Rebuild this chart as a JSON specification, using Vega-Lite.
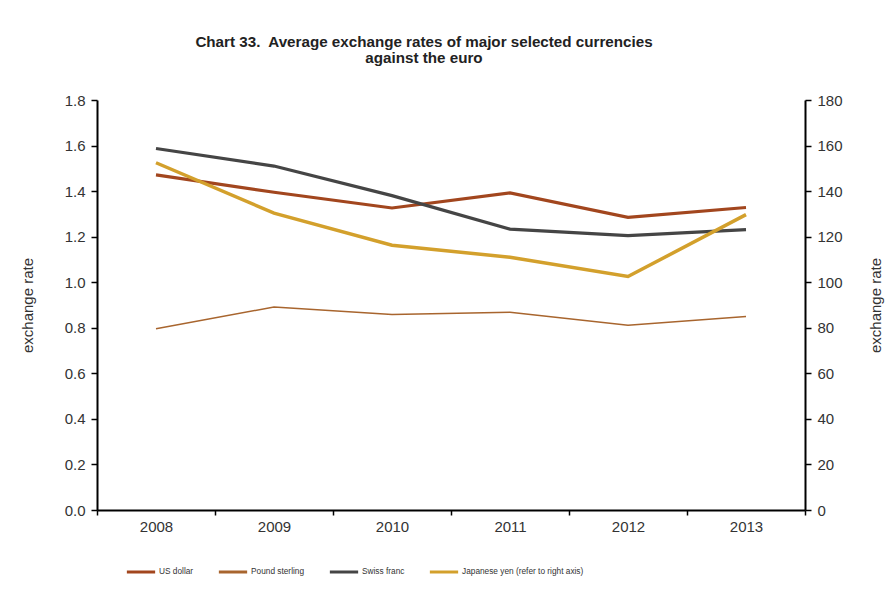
{
  "$schema": "https://vega.github.io/schema/vega-lite/v6.json",
  "width": 708,
  "height": 410,
  "autosize": {"type": "none"},
  "padding": {"left": 97, "top": 100, "right": 86, "bottom": 86},
  "background": "white",
  "config": {
    "view": {"stroke": null},
    "font": "Liberation Sans",
    "axis": {"domainColor": "black", "domainWidth": 2, "tickColor": "black", "tickWidth": 1.5, "tickSize": 6, "labelFont": "Liberation Sans", "labelFontSize": 15, "labelColor": "#333", "titleFont": "Liberation Sans", "titleFontSize": 15, "titleFontWeight": "normal", "titleColor": "#333", "grid": false}
  },
  "title": {
    "text": ["Chart 33.\u00a0 Average exchange rates of major selected currencies", "against the euro"],
    "font": "Liberation Sans",
    "fontSize": 15.2,
    "fontWeight": "bold",
    "color": "#222",
    "anchor": "middle",
    "dx": -27,
    "offset": 27,
    "lineHeight": 16
  },
  "data": {
    "values": [
      {"year": "2008", "series": "US dollar", "value": 1.471},
      {"year": "2009", "series": "US dollar", "value": 1.395},
      {"year": "2010", "series": "US dollar", "value": 1.326},
      {"year": "2011", "series": "US dollar", "value": 1.392},
      {"year": "2012", "series": "US dollar", "value": 1.285},
      {"year": "2013", "series": "US dollar", "value": 1.328},
      {"year": "2008", "series": "Pound sterling", "value": 0.796},
      {"year": "2009", "series": "Pound sterling", "value": 0.891},
      {"year": "2010", "series": "Pound sterling", "value": 0.858},
      {"year": "2011", "series": "Pound sterling", "value": 0.868},
      {"year": "2012", "series": "Pound sterling", "value": 0.811},
      {"year": "2013", "series": "Pound sterling", "value": 0.849},
      {"year": "2008", "series": "Swiss franc", "value": 1.587},
      {"year": "2009", "series": "Swiss franc", "value": 1.51},
      {"year": "2010", "series": "Swiss franc", "value": 1.38},
      {"year": "2011", "series": "Swiss franc", "value": 1.233},
      {"year": "2012", "series": "Swiss franc", "value": 1.205},
      {"year": "2013", "series": "Swiss franc", "value": 1.231},
      {"year": "2008", "series": "Japanese yen (refer to right axis)", "value": 152.45},
      {"year": "2009", "series": "Japanese yen (refer to right axis)", "value": 130.34},
      {"year": "2010", "series": "Japanese yen (refer to right axis)", "value": 116.24},
      {"year": "2011", "series": "Japanese yen (refer to right axis)", "value": 110.96},
      {"year": "2012", "series": "Japanese yen (refer to right axis)", "value": 102.49},
      {"year": "2013", "series": "Japanese yen (refer to right axis)", "value": 129.66}
    ]
  },
  "encoding": {
    "x": {
      "field": "year",
      "type": "ordinal",
      "bandPosition": 0.5,
      "scale": {"type": "band", "paddingInner": 0, "paddingOuter": 0},
      "axis": {"title": null, "labelAngle": 0, "tickBand": "extent", "labelPadding": 4, "tickSize": 5}
    },
    "color": {
      "field": "series",
      "type": "nominal",
      "scale": {
        "domain": ["US dollar", "Pound sterling", "Swiss franc", "Japanese yen (refer to right axis)"],
        "range": ["#A2461E", "#A8652E", "#454545", "#D3A02C"]
      },
      "legend": {
        "title": null,
        "orient": "none",
        "legendX": 28,
        "legendY": 456,
        "direction": "horizontal",
        "symbolType": "stroke",
        "symbolSize": 800,
        "symbolStrokeWidth": 3,
        "labelFont": "Liberation Sans",
        "labelFontSize": 8.3,
        "labelColor": "#333",
        "labelOffset": 2,
        "columnPadding": 18
      }
    }
  },
  "layer": [
    {
      "transform": [{"filter": "datum.series !== 'Japanese yen (refer to right axis)'"}],
      "mark": {"type": "line", "strokeCap": "butt", "strokeJoin": "miter"},
      "encoding": {
        "y": {
          "field": "value",
          "type": "quantitative",
          "scale": {"domain": [0, 1.8], "nice": false},
          "axis": {"title": "exchange rate", "orient": "left", "values": [0, 0.2, 0.4, 0.6, 0.8, 1.0, 1.2, 1.4, 1.6, 1.8], "format": ".1f", "labelPadding": 6, "titlePadding": 29}
        },
        "strokeWidth": {
          "condition": {"test": "datum.series === 'Pound sterling'", "value": 1.5},
          "value": 3.2
        }
      }
    },
    {
      "transform": [{"filter": "datum.series === 'Japanese yen (refer to right axis)'"}],
      "mark": {"type": "line", "strokeWidth": 3.5, "strokeCap": "butt"},
      "encoding": {
        "y": {
          "field": "value",
          "type": "quantitative",
          "scale": {"domain": [0, 180], "nice": false},
          "axis": {"title": "exchange rate", "orient": "right", "titleAngle": 270, "values": [0, 20, 40, 60, 80, 100, 120, 140, 160, 180], "labelPadding": 6, "titlePadding": 41}
        }
      }
    }
  ],
  "resolve": {"scale": {"y": "independent"}}
}
